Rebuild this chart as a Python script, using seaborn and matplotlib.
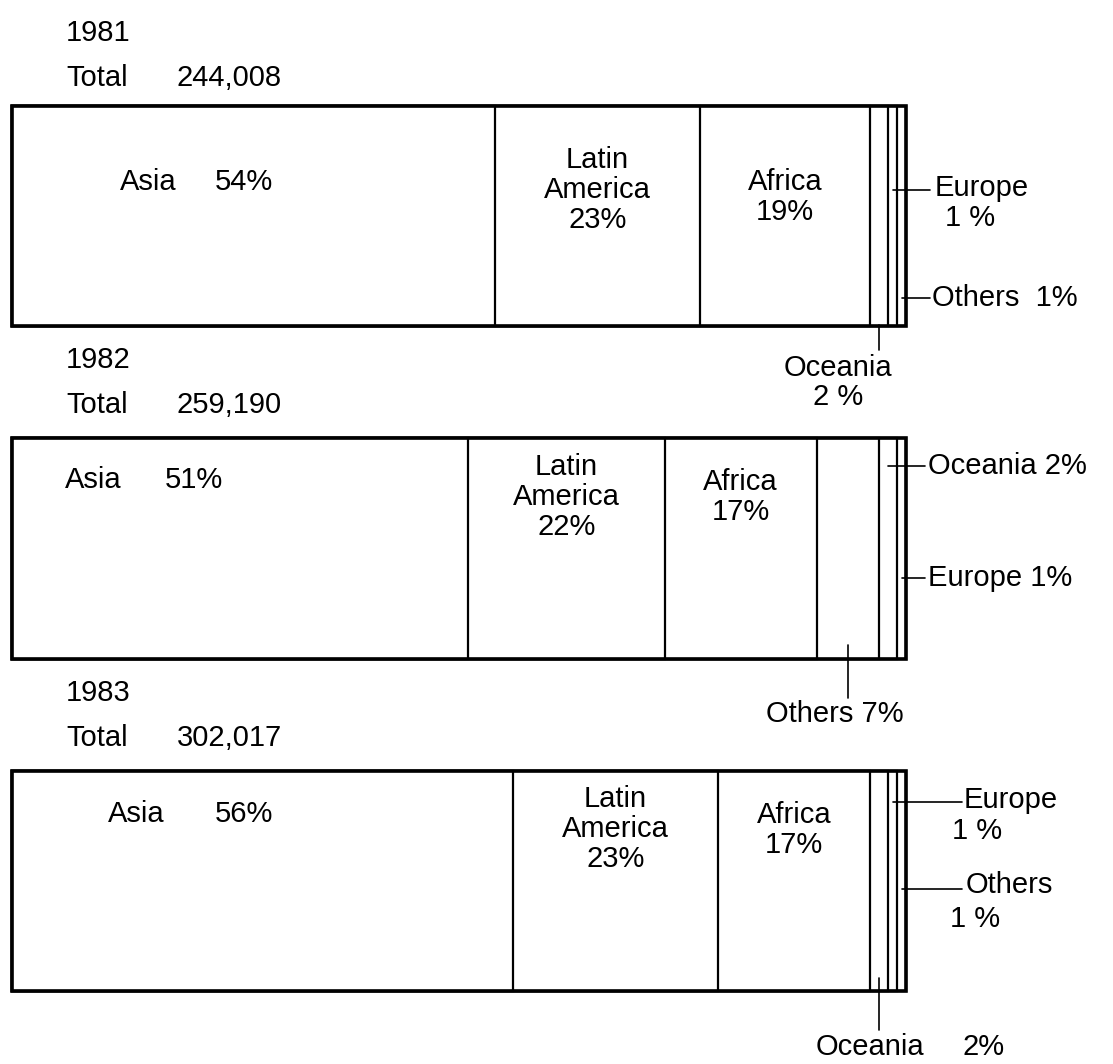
import matplotlib
matplotlib.use('Agg')
import matplotlib.pyplot as plt
from matplotlib.lines import Line2D
import seaborn as sns
import pandas as pd
import numpy as np

# ---------------- data ----------------
years = ['1981', '1982', '1983']
totals = ['244,008', '259,190', '302,017']
regions_1981 = ['Asia', 'Latin America', 'Africa', 'Oceania', 'Europe', 'Others']
pct_1981 = [54, 23, 19, 2, 1, 1]
regions_1982 = ['Asia', 'Latin America', 'Africa', 'Others', 'Oceania', 'Europe']
pct_1982 = [51, 22, 17, 7, 2, 1]
regions_1983 = ['Asia', 'Latin America', 'Africa', 'Oceania', 'Europe', 'Others']
pct_1983 = [56, 23, 17, 2, 1, 1]

W, H = 1113, 1064
sns.set_theme(style='white')
plt.rcParams['font.family'] = ['Liberation Sans', 'DejaVu Sans']
FS = 21

rows = []
for yr, regs, vals in zip(years, [regions_1981, regions_1982, regions_1983],
                          [pct_1981, pct_1982, pct_1983]):
    cum = np.cumsum(vals)
    for k, (r, v, c) in enumerate(zip(regs, vals, cum)):
        rows.append(dict(year=yr, seg=f's{k}', region=r, pct=v, end=c, start=c - v))
df = pd.DataFrame(rows)

fig = plt.figure(figsize=(W / 100, H / 100), dpi=100)
ax = fig.add_axes([12 / W, 1 - 1047.25 / H, (906 - 12) / W, (1047.25 - 49.75) / H])

seg_order = [f's{k}' for k in range(5, -1, -1)]
sns.barplot(data=df, x='end', y='year', hue='seg', hue_order=seg_order, order=years,
            orient='h', dodge=False, width=0.662,
            palette={s: 'white' for s in seg_order}, edgecolor='black',
            linewidth=1.6, saturation=1, errorbar=None, legend=False, ax=ax)
tot = df.groupby('year', as_index=False)['end'].max()
sns.barplot(data=tot, x='end', y='year', order=years, orient='h', width=0.662,
            fill=False, color='black', linewidth=2.6, errorbar=None, ax=ax)
ax.set_xlim(0, 100)
ax.set_ylim(2.5, -0.5)
ax.axis('off')
for p in ax.patches:
    p.set_clip_on(False)


def px(year, region):
    r = df[(df.year == year) & (df.region == region)].iloc[0]
    cx = (r.start + r.end) / 2
    return ax.transData.transform((cx, 0))[0]


def T(x, y, s, ha='left', **kw):
    fig.text(x / W, 1 - y / H, s, ha=ha, va='center', fontsize=FS,
             color='black', linespacing=1.1, **kw)


def L(x1, y1, x2, y2):
    fig.add_artist(Line2D([x1 / W, x2 / W], [1 - y1 / H, 1 - y2 / H],
                          transform=fig.transFigure, color='black', lw=1.2))


# headers
for yr, tt, yy in zip(years, totals, [33, 360, 693]):
    T(66, yy, yr)
    T(66, yy + 45, 'Total')
    T(177, yy + 45, tt)

# Asia labels
for (ax_, ay, pct_x), pct in zip([(120, 182, 215), (65, 480, 165), (108, 814, 215)],
                                 [pct_1981[0], pct_1982[0], pct_1983[0]]):
    T(ax_, ay, 'Asia')
    T(pct_x, ay, f'{pct}%')

# Latin America / Africa labels
for yr, pcts, ly, fy in zip(years, [pct_1981, pct_1982, pct_1983],
                            [190, 497, 829], [197, 497, 830]):
    T(px(yr, 'Latin America'), ly, f'Latin\nAmerica\n{pcts[1]}%', ha='center')
    T(px(yr, 'Africa'), fy, f'Africa\n{pcts[2]}%', ha='center')

# 1981 small segments
L(px('1981', 'Europe'), 190, 930, 190)
T(935, 188, 'Europe')
T(945, 218, f'{pct_1981[4]} %')
L(px('1981', 'Others'), 298, 930, 298)
T(932, 298, f'Others  {pct_1981[5]}%')
L(px('1981', 'Oceania'), 325, px('1981', 'Oceania'), 350)
T(838, 368, 'Oceania', ha='center')
T(838, 397, f'{pct_1981[3]} %', ha='center')

# 1982 small segments
L(px('1982', 'Oceania'), 466, 925, 466)
T(928, 466, f'Oceania {pct_1982[4]}%')
L(px('1982', 'Europe'), 578, 925, 578)
T(928, 578, f'Europe {pct_1982[5]}%')
L(px('1982', 'Others'), 645, px('1982', 'Others'), 698)
T(835, 714, f'Others {pct_1982[3]}%', ha='center')

# 1983 small segments
L(px('1983', 'Europe'), 802, 962, 802)
T(964, 800, 'Europe')
T(952, 831, f'{pct_1983[4]} %')
L(px('1983', 'Others'), 889, 962, 889)
T(966, 885, 'Others')
T(950, 919, f'{pct_1983[5]} %')
L(px('1983', 'Oceania'), 978, px('1983', 'Oceania'), 1030)
T(816, 1047, 'Oceania')
T(963, 1047, f'{pct_1983[3]}%')

fig.savefig('out.png', dpi=100, facecolor='white')
